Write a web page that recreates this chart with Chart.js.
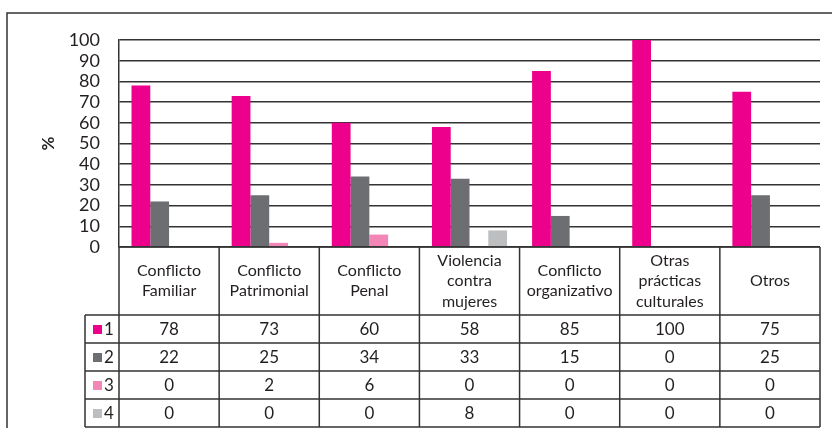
<!DOCTYPE html>
<html>
<head>
<meta charset="utf-8">
<script src="https://cdn.jsdelivr.net/npm/chart.js@4.4.0/dist/chart.umd.min.js"></script>
<style>
  html, body { margin: 0; padding: 0; background: #fff; }
  #wrap { width: 832px; height: 428px; position: relative; }
</style>
</head>
<body>
<div id="wrap"><canvas id="bar-chart"></canvas></div>
<script>
const ctx = document.getElementById("bar-chart");

// categories (one entry per line of the label)
const categories = [
  ['Conflicto', 'Familiar'],
  ['Conflicto', 'Patrimonial'],
  ['Conflicto', 'Penal'],
  ['Violencia', 'contra', 'mujeres'],
  ['Conflicto', 'organizativo'],
  ['Otras', 'prácticas', 'culturales'],
  ['Otros']
];
const seriesNames = ['1', '2', '3', '4'];
const serie1 = [78, 73, 60, 58, 85, 100, 75];
const serie2 = [22, 25, 34, 33, 15, 0, 25];
const serie3 = [0, 2, 6, 0, 0, 0, 0];
const serie4 = [0, 0, 0, 8, 0, 0, 0];
const yTicks = [0, 10, 20, 30, 40, 50, 60, 70, 80, 90, 100];

const colors = ['#EC008C', '#6D6E71', '#F287B7', '#BCBEC0'];
const allSeries = [serie1, serie2, serie3, serie4];
const textColor = '#231F20';
const lineColor = '#333333';

// draws the data table under the plot + outer frame
const tablePlugin = {
  id: 'dataTable',
  beforeDraw(chart) {
    const c = chart.ctx;
    c.save();
    c.strokeStyle = lineColor;
    c.lineWidth = 1.5;
    c.beginPath();
    c.moveTo(7, 428);
    c.lineTo(7, 13);
    c.lineTo(832, 13);
    c.stroke();
    c.restore();
  },
  afterDraw(chart) {
    const c = chart.ctx;
    const xs = chart.scales.x;
    const area = chart.chartArea;
    const n = categories.length;
    const colW = (area.right - area.left) / n;
    const headTop = area.bottom;
    const headH = 68;
    const rowH = 28;
    const legLeft = area.left - 34;
    const bottom = headTop + headH + rowH * allSeries.length;

    c.save();
    c.strokeStyle = lineColor;
    c.lineWidth = 1.5;
    c.beginPath();
    // horizontal lines
    c.moveTo(area.left, headTop);
    c.lineTo(area.right, headTop);
    for (let r = 0; r <= allSeries.length; r++) {
      const y = headTop + headH + r * rowH;
      c.moveTo(legLeft, y);
      c.lineTo(area.right, y);
    }
    // vertical lines
    for (let i = 0; i <= n; i++) {
      const x = area.left + i * colW;
      c.moveTo(x, headTop);
      c.lineTo(x, bottom);
    }
    c.moveTo(legLeft, headTop + headH);
    c.lineTo(legLeft, bottom);
    c.stroke();

    c.fillStyle = textColor;
    c.textAlign = 'center';
    c.textBaseline = 'middle';
    c.font = '16px Lato';
    // header labels
    categories.forEach((lines, i) => {
      const cx = xs.getPixelForValue(i);
      const lh = 20.5;
      const y0 = headTop + headH / 2 - (lines.length - 1) * lh / 2;
      lines.forEach((t, k) => c.fillText(t, cx, y0 + k * lh));
    });
    // values
    c.font = '17px Lato';
    allSeries.forEach((vals, r) => {
      const cy = headTop + headH + r * rowH + rowH / 2 + 1;
      vals.forEach((v, i) => c.fillText(String(v), xs.getPixelForValue(i), cy));
      // legend key
      c.fillStyle = colors[r];
      c.fillRect(legLeft + 8, cy - 5, 9, 9);
      c.fillStyle = textColor;
      c.textAlign = 'left';
      c.fillText(seriesNames[r], legLeft + 19, cy);
      c.textAlign = 'center';
    });
    c.restore();
  }
};

const chartData = {
  labels: categories,
  datasets: allSeries.map((vals, i) => ({
    label: seriesNames[i],
    data: vals,
    backgroundColor: colors[i],
    borderWidth: 0,
    categoryPercentage: 0.75,
    barPercentage: 1.0
  }))
};

const config = {
  type: 'bar',
  data: chartData,
  options: {
    responsive: true,
    maintainAspectRatio: false,
    animation: false,
    layout: {
      padding: { left: 0, right: 12, top: 40, bottom: 181 }
    },
    plugins: {
      legend: { display: false },
      tooltip: { enabled: false }
    },
    scales: {
      x: {
        display: false
      },
      y: {
        min: yTicks[0],
        max: yTicks[yTicks.length - 1],
        afterFit: (scale) => { scale.width = 119; },
        border: { display: true, color: lineColor, width: 1.5 },
        grid: { color: lineColor, lineWidth: 1.5, drawTicks: false },
        ticks: {
          stepSize: yTicks[1] - yTicks[0],
          autoSkip: false,
          color: textColor,
          padding: 19,
          font: { family: 'Lato', size: 18 }
        },
        title: {
          display: true,
          text: '%',
          color: textColor,
          padding: { top: 38, bottom: 0 },
          font: { family: 'Lato', size: 17, weight: 'bold' }
        }
      }
    }
  },
  plugins: [tablePlugin]
};

new Chart(ctx, config);
</script>
</body>
</html>
